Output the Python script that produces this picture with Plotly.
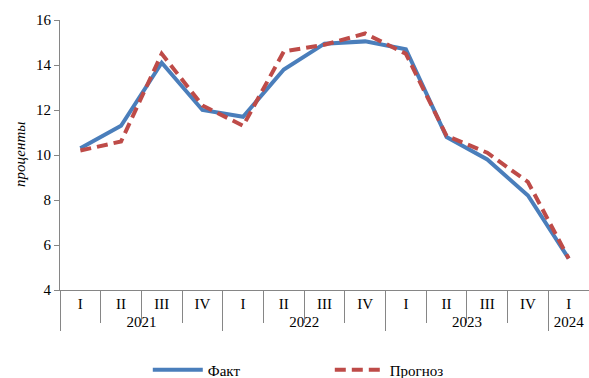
import plotly.graph_objects as go

years = ["2021"] * 4 + ["2022"] * 4 + ["2023"] * 4 + ["2024"]
quarters = ["I", "II", "III", "IV", "I", "II", "III", "IV", "I", "II", "III", "IV", "I"]
fakt = [10.3, 11.3, 14.1, 12.0, 11.7, 13.8, 14.95, 15.05, 14.7, 10.8, 9.8, 8.2, 5.4]
prognoz = [10.2, 10.6, 14.5, 12.2, 11.3, 14.6, 14.9, 15.4, 14.5, 10.85, 10.1, 8.8, 5.4]
y_ticks = [4, 6, 8, 10, 12, 14, 16]

FONT = "Liberation Serif, Times New Roman, serif"
AXIS = "#868686"

fig = go.Figure()
fig.add_trace(go.Scatter(x=[years, quarters], y=fakt, name="Факт", mode="lines",
                         line=dict(color="#4A7EBB", width=4)))
fig.add_trace(go.Scatter(x=[years, quarters], y=prognoz, name="Прогноз", mode="lines",
                         line=dict(color="#BE4B48", width=4, dash="11px,6px")))

fig.update_layout(
    width=589, height=378,
    margin=dict(l=60, r=0, t=20, b=88, autoexpand=False),
    paper_bgcolor="white", plot_bgcolor="white",
    font=dict(family=FONT, size=15, color="black"),
    showlegend=True,
    legend=dict(orientation="h", x=0.51, xanchor="center", y=-0.296, yanchor="middle",
                font=dict(size=15, family=FONT), entrywidth=117, itemwidth=50),
    annotations=[
        dict(text="<i>(годовой темп прироста цен, в процентах)</i>",
             xref="paper", yref="paper", x=-0.1134, xanchor="left",
             y=1.0, yshift=19, yanchor="bottom", showarrow=False,
             font=dict(size=17, family=FONT)),
        dict(text="<i>проценты</i>", xref="paper", yref="paper", x=-0.0756,
             xanchor="center", y=0.5, yanchor="middle", textangle=-90,
             showarrow=False, font=dict(size=15, family=FONT)),
    ],
)
fig.update_xaxes(type="multicategory", range=[-0.5, 12.5], showline=True, linecolor=AXIS,
                 linewidth=1, ticks="outside", tickson="boundaries", ticklen=32,
                 tickcolor=AXIS, showdividers=True, dividercolor=AXIS, dividerwidth=1,
                 showgrid=False, automargin=False, tickfont=dict(size=15, family=FONT))
fig.update_yaxes(range=[4, 16], tickvals=y_ticks, showline=True, linecolor=AXIS,
                 linewidth=1, ticks="outside", ticklen=5, tickcolor=AXIS,
                 showgrid=False, zeroline=False, automargin=False,
                 tickfont=dict(size=15, family=FONT))

fig.write_html("out.html", config={"displayModeBar": False},
               post_script="document.body.style.margin='0';")
